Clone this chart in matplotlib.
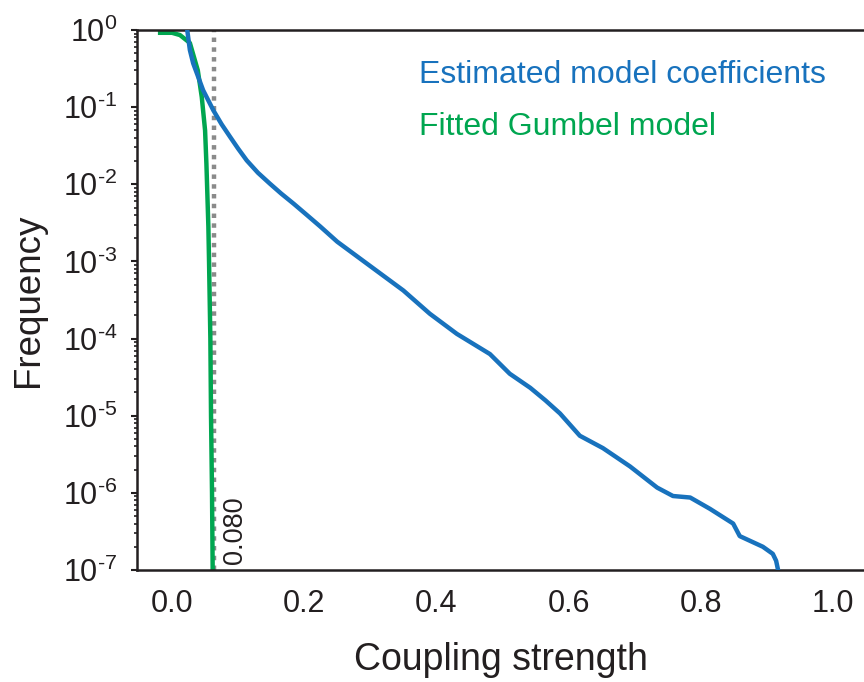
import matplotlib
matplotlib.use("Agg")
import numpy as np
import matplotlib.pyplot as plt
from matplotlib.ticker import LogLocator, NullFormatter, FixedLocator, FuncFormatter

plt.rcParams['font.family'] = ['Liberation Sans', 'DejaVu Sans']
plt.rcParams['mathtext.fontset'] = 'custom'
plt.rcParams['mathtext.rm'] = 'Liberation Sans'
plt.rcParams['mathtext.it'] = 'Liberation Sans:italic'
plt.rcParams['mathtext.bf'] = 'Liberation Sans:bold'

# estimated coupling strength distribution
est_x = [0.023, 0.027, 0.032, 0.047, 0.0625, 0.075, 0.088, 0.100, 0.113, 0.130,
         0.148, 0.165, 0.184, 0.204, 0.224, 0.250, 0.289, 0.350, 0.390, 0.431,
         0.481, 0.511, 0.542, 0.565, 0.587, 0.617, 0.652, 0.693, 0.734, 0.758,
         0.784, 0.814, 0.849, 0.859, 0.894, 0.909, 0.914, 0.917]
est_freq = [1.0, 0.55, 0.37, 0.166, 0.091, 0.060, 0.041, 0.029, 0.0204, 0.0141,
            0.0102, 7.6e-3, 5.6e-3, 4.0e-3, 2.85e-3, 1.8e-3, 1.02e-3, 4.2e-4, 2.1e-4, 1.15e-4,
            6.3e-5, 3.5e-5, 2.3e-5, 1.58e-5, 1.07e-5, 5.5e-6, 3.8e-6, 2.2e-6, 1.17e-6, 9.1e-7,
            8.7e-7, 6.2e-7, 4.0e-7, 2.75e-7, 2.0e-7, 1.62e-7, 1.32e-7, 1.0e-7]

# fitted Gumbel model
gum_x = [-0.018, 0.000, 0.012, 0.027, 0.039, 0.045, 0.050, 0.052, 0.055, 0.056,
         0.058, 0.059, 0.0605, 0.0615]
gum_freq = [0.92, 0.92, 0.86, 0.68, 0.30, 0.135, 0.050, 0.0186, 2.8e-3, 1e-3,
            1e-4, 1e-5, 1e-6, 1e-7]

threshold_x = 0.0635
threshold_label = "0.080"

x_ticks = [0.0, 0.2, 0.4, 0.6, 0.8, 1.0]
x_tick_labels = ["0.0", "0.2", "0.4", "0.6", "0.8", "1.0"]

blue = '#1872bd'
green = '#00a650'
ink = '#231f20'


def pow10_label(v, pos):
    e = int(round(np.log10(v)))
    if e < 0:
        return r'$10^{\text{-}%d}$' % (-e)
    return r'$10^{%d}$' % e


fig = plt.figure(figsize=(8.64, 6.82), dpi=100)
ax = fig.add_axes([137 / 864, 112 / 682, 727 / 864, 540 / 682])

ax.axvline(threshold_x, color='#8a8a8a', lw=3.2, ls=(0, (1, 1.2)), zorder=1)
ax.plot(gum_x, gum_freq, color=green, lw=3.2, zorder=2, solid_joinstyle='round')
ax.plot(est_x, est_freq, color=blue, lw=3.2, zorder=3, solid_joinstyle='round')

ax.set_yscale('log')
ax.set_ylim(1e-7, 1)
ax.set_xlim(-0.053, 1.047)

ax.xaxis.set_major_locator(FixedLocator(x_ticks))
ax.set_xticklabels(x_tick_labels)
ax.yaxis.set_major_locator(LogLocator(base=10, numticks=10))
ax.yaxis.set_major_formatter(FuncFormatter(pow10_label))
ax.yaxis.set_minor_locator(LogLocator(base=10, subs=range(2, 10), numticks=10))
ax.yaxis.set_minor_formatter(NullFormatter())

ax.tick_params(axis='x', length=0, pad=14, labelsize=22, colors=ink)
ax.tick_params(axis='y', which='major', direction='out', length=4, width=1.5, pad=10,
               labelsize=22, colors=ink)
ax.tick_params(axis='y', which='minor', direction='out', length=2.5, width=1.2, colors=ink)

for side in ['left', 'top', 'bottom']:
    ax.spines[side].set_linewidth(1.8)
    ax.spines[side].set_color(ink)
ax.spines['right'].set_visible(False)

ax.set_xlabel("Coupling strength", fontsize=27, color=ink, labelpad=16)
ax.set_ylabel("Frequency", fontsize=26.5, color=ink, labelpad=12)

ax.text(0.388, 0.917, "Estimated model coefficients", transform=ax.transAxes,
        fontsize=23, color=blue, ha='left', va='center')
ax.text(0.388, 0.820, "Fitted Gumbel model", transform=ax.transAxes,
        fontsize=23, color=green, ha='left', va='center')

ax.annotate(threshold_label, xy=(threshold_x, 0.012), xycoords=('data', 'axes fraction'),
            xytext=(6, 0), textcoords='offset points', rotation=90,
            fontsize=19.5, color=ink, ha='left', va='bottom')

fig.savefig("out.png", dpi=100)
